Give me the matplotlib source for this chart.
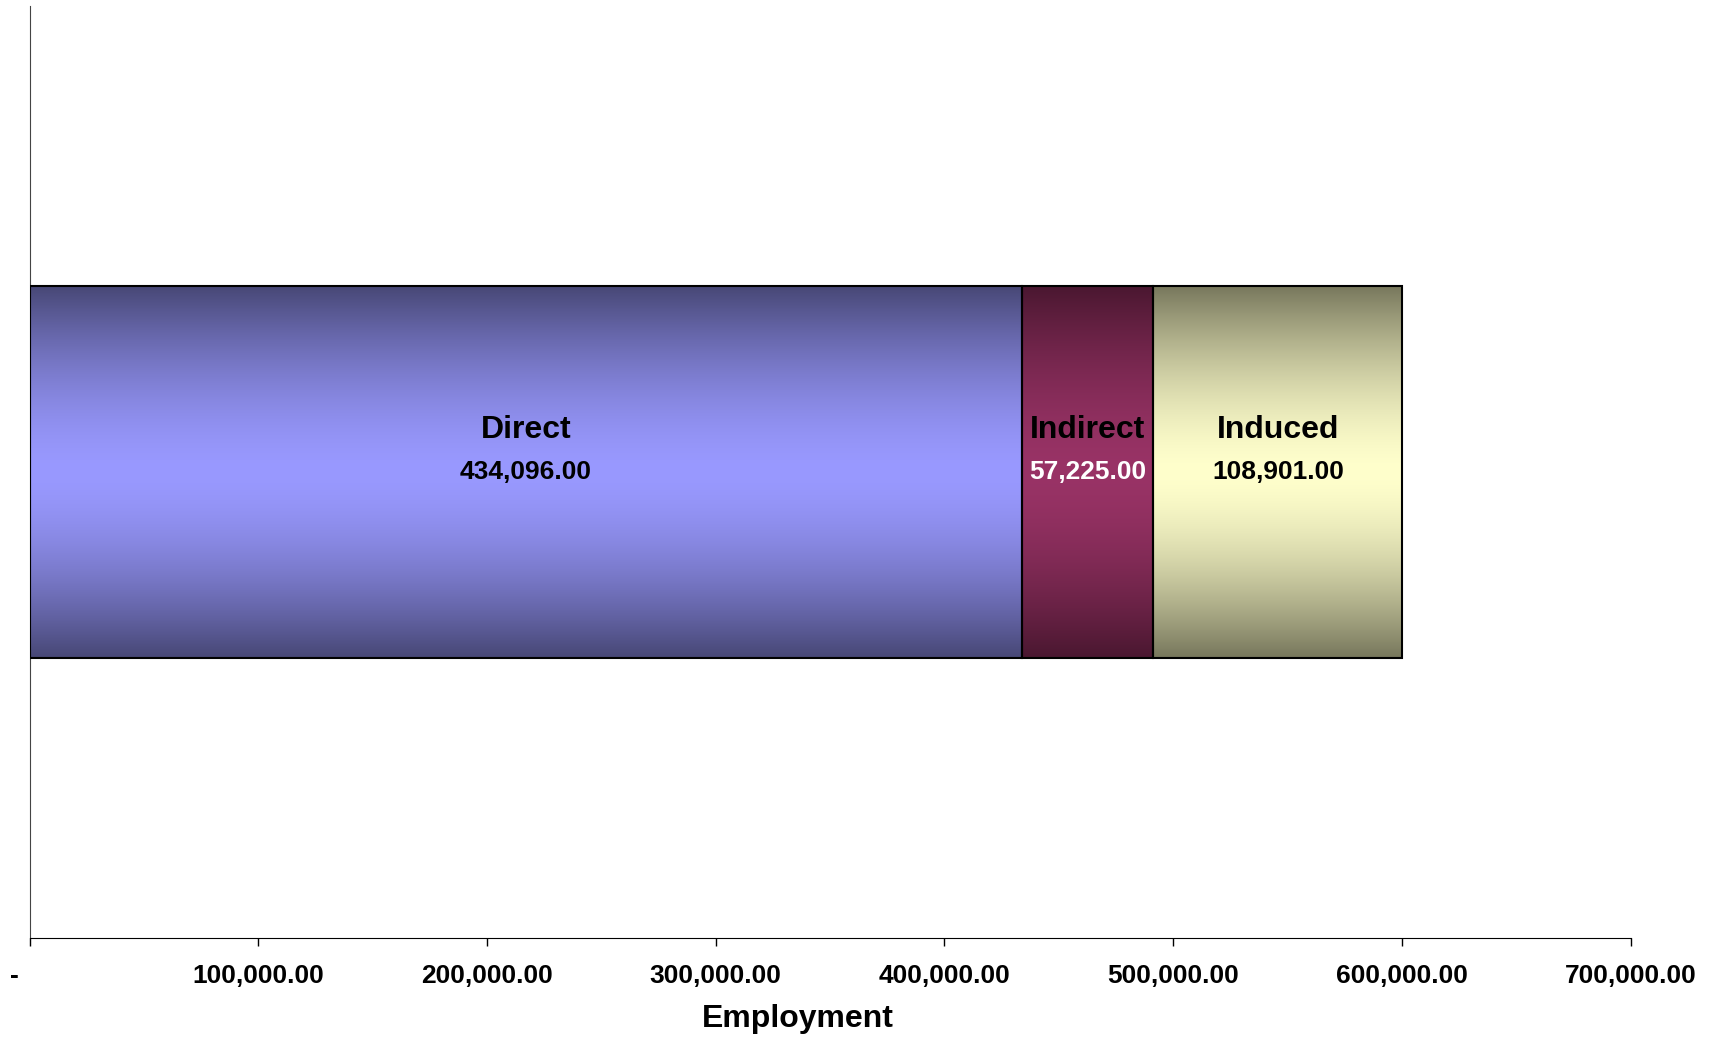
import matplotlib.pyplot as plt
import matplotlib.transforms as mtransforms
import numpy as np
from matplotlib.colors import to_rgb
from matplotlib.ticker import FuncFormatter

plt.rcParams['font.family'] = ['Liberation Sans', 'DejaVu Sans']
plt.rcParams['font.weight'] = 'bold'

# Data
categories = ['Direct', 'Indirect', 'Induced']
values = [434096.00, 57225.00, 108901.00]
edge_colors = ['#474775', '#4a1730', '#77775c']   # dark band at top/bottom
mid_colors = ['#9999ff', '#993366', '#ffffcc']    # light band at the middle
value_text_colors = ['black', 'white', 'black']
xticks = [0, 100000, 200000, 300000, 400000, 500000, 600000, 700000]

fig = plt.figure(figsize=(17.2, 10.37), dpi=100)
ax = fig.add_axes([0.0172, 0.0955, 0.9308, 0.8985])

bar_h = 0.8
left = 0
for cat, val, c_edge, c_mid, tcol in zip(categories, values, edge_colors, mid_colors, value_text_colors):
    bar = ax.barh(0, val, left=left, height=bar_h, color='none',
                  edgecolor='black', linewidth=1.5, zorder=3)[0]
    # vertical gradient: dark at edges, light in the middle
    t = np.abs(np.linspace(-1, 1, 256))
    w = (1 - t ** 1.6)[:, None]
    grad = np.array(to_rgb(c_edge)) * (1 - w) + np.array(to_rgb(c_mid)) * w
    img = ax.imshow(grad[:, None, :], extent=[left, left + val, -bar_h / 2, bar_h / 2],
                    aspect='auto', origin='lower', zorder=2, interpolation='bilinear')
    img.set_clip_path(bar)
    cx = left + val / 2
    ax.text(cx, 0.09, cat, ha='center', va='center', fontsize=23, fontweight='bold', zorder=4)
    ax.text(cx, 0.0, f'{val:,.2f}', ha='center', va='center', fontsize=19,
            fontweight='bold', color=tcol, zorder=4)
    left += val

ax.set_xlim(0, 700000)
ax.set_ylim(-1, 1)
ax.set_xticks(xticks)
ax.xaxis.set_major_formatter(FuncFormatter(lambda v, p: '-' if v == 0 else f'{v:,.2f}'))
ax.tick_params(axis='x', direction='out', length=6, width=1, pad=13, labelsize=19)
ax.set_yticks([])
ax.set_xlabel('Employment', fontsize=23, fontweight='bold', labelpad=11)
ax.xaxis.label.set_x(0.48)

for s in ['top', 'right']:
    ax.spines[s].set_visible(False)
ax.spines['left'].set_color('#444444')

# shift the "-" zero label a bit left, as in the original
off = mtransforms.ScaledTranslation(-15 / 100, 0, fig.dpi_scale_trans)
lbl = ax.get_xticklabels()[0]
lbl.set_transform(lbl.get_transform() + off)

plt.savefig('out.png', dpi=100)
